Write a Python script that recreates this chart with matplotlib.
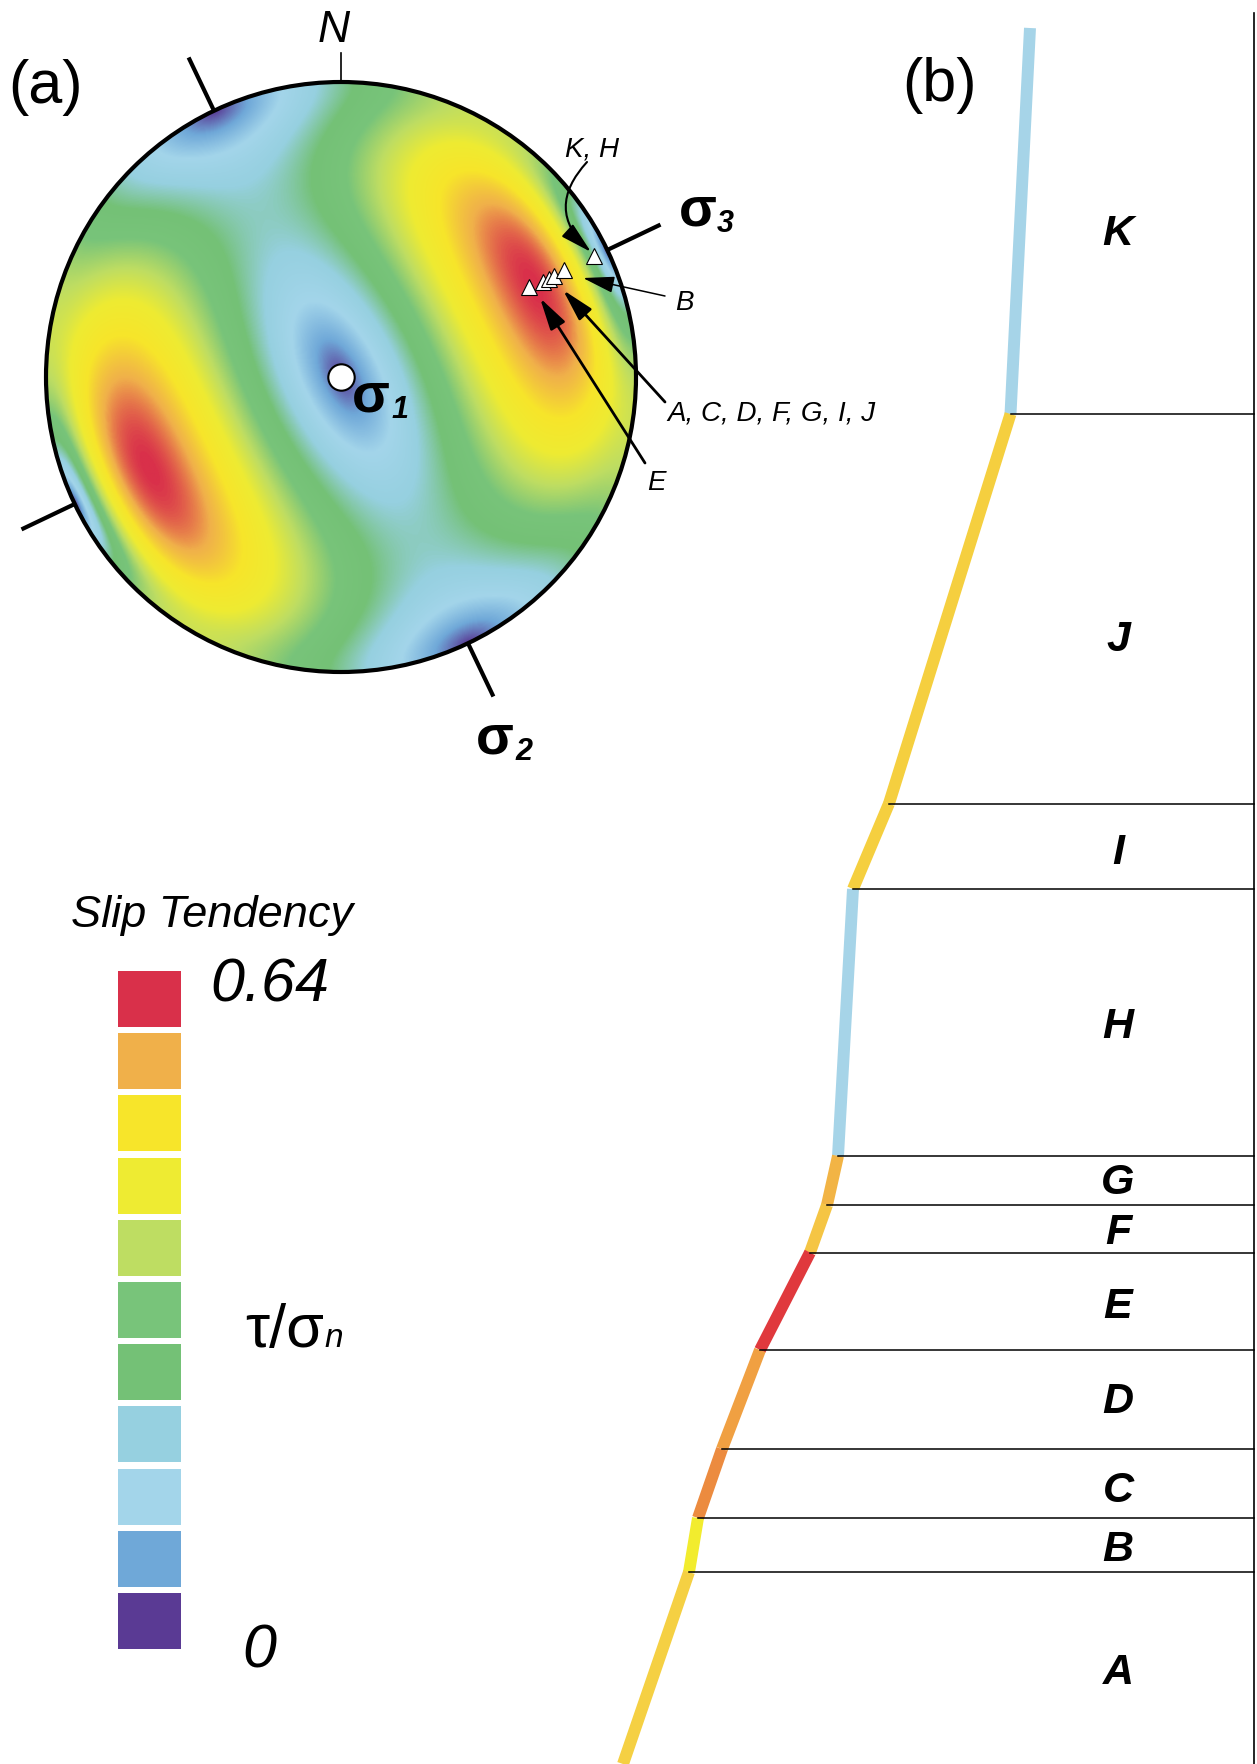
import numpy as np
import matplotlib
matplotlib.use("Agg")
import matplotlib.pyplot as plt
from matplotlib.colors import LinearSegmentedColormap
from matplotlib.patches import Circle

plt.rcParams['font.family'] = ['Liberation Sans', 'DejaVu Sans']

W, H, DPI = 1257, 1764, 100

# --- stress model for the slip tendency stereonet (a) ---
SIGMA = [3.34, 2.20, 1.00]          # sigma1 (vertical), sigma2, sigma3
SIGMA3_TREND = 64.5                 # deg, horizontal
SIGMA2_TREND = 154.5
TS_MAX = 0.64

# colour classes of the legend, top (0.64) to bottom (0)
CLASS_COLORS = ['#d9304a', '#f0b04a', '#f7e52a', '#eeeb32', '#bedd62', '#78c47a',
                '#74c176', '#96d0e0', '#a3d5ea', '#6fa8d8', '#5a3a94']

# poles of fault segments (trend, plunge), lower hemisphere
POLE_TREND = [64.3, 64.7, 64.7, 64.6, 64.3, 64.5]
POLE_PLUNGE = [30.0, 25.4, 23.0, 21.0, 17.3, 5.5]

# --- fault profile (b) ---
UNITS = ['K', 'J', 'I', 'H', 'G', 'F', 'E', 'D', 'C', 'B', 'A']
PROFILE_X = [1030, 1010.5, 889, 853, 838, 827, 810, 760, 722, 698, 689, 623]
PROFILE_Y = [28, 414, 803.5, 889, 1156, 1205, 1252.5, 1350, 1449, 1518, 1572, 1764]
UNIT_COLORS = ['#a6d4e8', '#f5cf3f', '#f5cf3f', '#a6d4e8', '#f2b445', '#f5c544',
               '#e0393d', '#f0a042', '#ec8b3f', '#f2ec2e', '#f5d043']
LABEL_Y = [230, 636, 849, 1023, 1179, 1229, 1303, 1398, 1487, 1546, 1669]


def equal_area(trend, plunge):
    t = np.radians(trend)
    r = np.sqrt(2) * np.sin(np.radians(90 - np.asarray(plunge)) / 2)
    return r * np.sin(t), r * np.cos(t)


fig = plt.figure(figsize=(W / DPI, H / DPI), dpi=DPI)

# stereonet axes (slightly elliptical like the scan)
cx, cy, rx, ry = 341, 377, 301, 295
ax_a = fig.add_axes([(cx - rx) / W, 1 - (cy + ry) / H, 2 * rx / W, 2 * ry / H])
ax_a.set_xlim(-1, 1)
ax_a.set_ylim(-1, 1)
ax_a.axis('off')

n = 700
g = np.linspace(-1, 1, n)
X, Y = np.meshgrid(g, g)
R = np.hypot(X, Y)
theta = 2 * np.arcsin(np.clip(R / np.sqrt(2), 0, 1))
az = np.arctan2(X, Y)
c1 = np.cos(theta)
c3 = np.sin(theta) * np.cos(az - np.radians(SIGMA3_TREND))
c2 = np.sin(theta) * np.cos(az - np.radians(SIGMA2_TREND))
s1, s2, s3 = SIGMA
sn = s1 * c1**2 + s2 * c2**2 + s3 * c3**2
tau = np.sqrt(np.maximum(s1**2 * c1**2 + s2**2 * c2**2 + s3**2 * c3**2 - sn**2, 0))
ts = tau / sn
ts[R > 1.005] = np.nan

cmap = LinearSegmentedColormap.from_list('slip', CLASS_COLORS[::-1])
im = ax_a.imshow(ts, extent=(-1, 1, -1, 1), origin='lower', cmap=cmap,
                 vmin=0, vmax=TS_MAX, interpolation='bilinear')
clip = Circle((0, 0), 1, transform=ax_a.transData)
im.set_clip_path(clip)
ax_a.add_patch(Circle((0, 0), 1, fill=False, lw=3, ec='black', zorder=3, clip_on=False))

for tr in [SIGMA3_TREND, SIGMA3_TREND + 180, SIGMA2_TREND, SIGMA2_TREND + 180]:
    t = np.radians(tr)
    ax_a.plot([np.sin(t), 1.2 * np.sin(t)], [np.cos(t), 1.2 * np.cos(t)],
              color='black', lw=3, clip_on=False, solid_capstyle='butt')
ax_a.plot([0, 0], [1, 1.1], color='black', lw=1.2, clip_on=False)

px, py = equal_area(POLE_TREND, POLE_PLUNGE)
ax_a.plot(px, py, '^', ms=11, mfc='white', mec='black', mew=0.8, ls='none', zorder=4)
ax_a.plot(0, 0, 'o', ms=19, mfc='white', mec='black', mew=1.5, zorder=4)

# overlay axes in pixel units
ax0 = fig.add_axes([0, 0, 1, 1])
ax0.set_xlim(0, W)
ax0.set_ylim(H, 0)
ax0.axis('off')
ax0.set_zorder(5)

ax0.text(46, 103, '(a)', fontsize=44, ha='center')
ax0.text(940, 101, '(b)', fontsize=44, ha='center')
ax0.text(334, 42, 'N', fontsize=32, style='italic', ha='center')

# sigma labels
for x, y, xs, ys, sub in [(371, 412, 400, 418, '1'), (495, 753, 524, 760, '2'),
                          (698, 225, 725, 232, '3')]:
    ax0.text(x, y, 'σ', fontsize=40, fontweight='bold', ha='center')
    ax0.text(xs, ys, sub, fontsize=22, fontweight='bold', style='italic', ha='center')

# fault annotations
ax0.text(592, 157, 'K, H', fontsize=20, style='italic', ha='center')
ax0.text(675, 310, 'B', fontsize=20, style='italic', ha='left')
ax0.text(667, 420, 'A, C, D, F, G, I, J', fontsize=20, style='italic', ha='left')
ax0.text(656, 490, 'E', fontsize=20, style='italic', ha='center')

head = '-|>,head_length=0.65,head_width=0.17'
ax0.annotate('', xy=(591, 252), xytext=(587, 162),
             arrowprops=dict(arrowstyle=head, mutation_scale=30, lw=1.5, color='black',
                             shrinkA=0, shrinkB=0, connectionstyle='arc3,rad=0.5'))
ax0.annotate('', xy=(583, 278), xytext=(665, 296),
             arrowprops=dict(arrowstyle=head, mutation_scale=30, lw=1.1, color='black',
                             shrinkA=0, shrinkB=0))
ax0.annotate('', xy=(563, 290), xytext=(665, 402),
             arrowprops=dict(arrowstyle=head, mutation_scale=30, lw=2, color='black',
                             shrinkA=0, shrinkB=0))
ax0.annotate('', xy=(540, 298), xytext=(645, 463),
             arrowprops=dict(arrowstyle=head, mutation_scale=30, lw=2, color='black',
                             shrinkA=0, shrinkB=0))

# legend
ax0.bar(np.full(len(CLASS_COLORS), 149.5), 56, bottom=971 + np.arange(len(CLASS_COLORS)) * 62.2,
        width=63, color=CLASS_COLORS)
ax0.text(212, 927, 'Slip Tendency', fontsize=32.5, style='italic', ha='center')
ax0.text(270, 1002, '0.64', fontsize=44, style='italic', ha='center')
ax0.text(259, 1668, '0', fontsize=44, style='italic', ha='center')
ts_lab = ax0.text(245, 1347, 'τ/σ', fontsize=44, ha='left')
renderer = fig.canvas.get_renderer()
bb = ts_lab.get_window_extent(renderer).transformed(ax0.transData.inverted())
ax0.text(bb.x1 + 1, 1347, 'n', fontsize=24, style='italic', ha='left')

# profile (b)
for i, unit in enumerate(UNITS):
    ax0.plot(PROFILE_X[i:i + 2], PROFILE_Y[i:i + 2], color=UNIT_COLORS[i], lw=8.6,
             solid_capstyle='butt')
    ax0.text(1118, LABEL_Y[i] + 15, unit, fontsize=31, fontweight='bold', style='italic',
             ha='center')
for x, y in zip(PROFILE_X[1:-1], PROFILE_Y[1:-1]):
    ax0.plot([x, 1254], [y, y], color='black', lw=1.1)
ax0.plot([1254, 1254], [13, H], color='black', lw=1.2)

fig.savefig('out.png', dpi=DPI)
